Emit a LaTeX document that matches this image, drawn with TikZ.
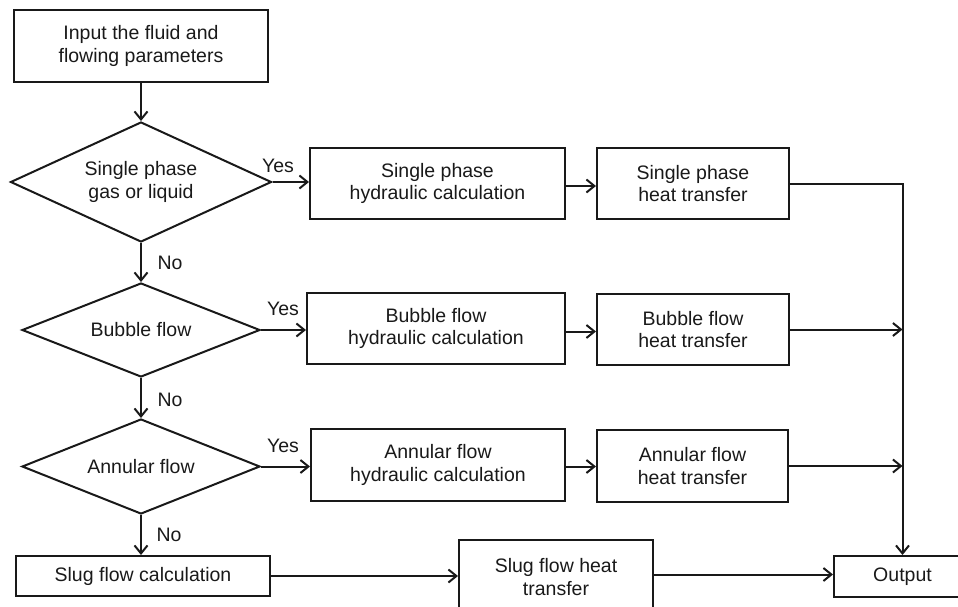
\documentclass[tikz,border=0pt]{standalone}
\usepackage{fontspec}
\setmainfont{Liberation Sans}
\usetikzlibrary{shapes.geometric,arrows.meta}
\begin{document}
\begin{tikzpicture}[x=1pt,y=-1pt,
  every node/.style={font=\fontsize{19.5}{22.5}\selectfont, text=black!90},
  box/.style={draw=black!90, line width=2pt, inner sep=0pt, align=center},
  dia/.style={draw=black!90, diamond, line width=2pt, inner sep=0pt, align=center},
  arr/.style={draw=black!90, line width=2pt, -{Straight Barb[length=8pt,width=13pt]}},
  lbl/.style={inner sep=0pt}]
\useasboundingbox (0,0) rectangle (958,607);
\clip (0,0) rectangle (958,607);
% left column
\node[box, minimum width=254pt, minimum height=72pt] (in) at (141,46) {Input the fluid and\\flowing parameters};
\node[dia, aspect=2.175, minimum width=261pt, minimum height=120pt] (d1) at (141,182) {Single phase\\gas or liquid};
\node[dia, aspect=2.53, minimum width=238pt, minimum height=94pt] (d2) at (141,330) {Bubble flow};
\node[dia, aspect=2.5, minimum width=238pt, minimum height=95pt] (d3) at (141,466.5) {Annular flow};
\node[box, minimum width=254pt, minimum height=40pt] (slug) at (143,576) {Slug flow calculation};
% hydraulic boxes
\node[box, minimum width=255pt, minimum height=71pt] (sph) at (437.5,183.5) {Single phase\\hydraulic calculation};
\node[box, minimum width=258pt, minimum height=71pt] (bph) at (436,328.5) {Bubble flow\\hydraulic calculation};
\node[box, minimum width=254pt, minimum height=72pt] (aph) at (438,465) {Annular flow\\hydraulic calculation};
% heat transfer boxes
\node[box, minimum width=192pt, minimum height=71pt] (sht) at (693,183.5) {Single phase\\heat transfer};
\node[box, minimum width=192pt, minimum height=71pt] (bht) at (693,329.5) {Bubble flow\\heat transfer};
\node[box, minimum width=191pt, minimum height=72pt] (aht) at (692.5,466) {Annular flow\\heat transfer};
\node[box, minimum width=194pt, minimum height=74pt] (slugh) at (556,577) {Slug flow heat\\transfer};
\node[box, minimum width=137pt, minimum height=41pt] (out) at (902.5,576.5) {Output};
% connectors
\draw[arr] (in.south) -- (d1.north);
\draw[arr] (d1.south) -- (d2.north);
\draw[arr] (d2.south) -- (d3.north);
\draw[arr] (d3.south) -- (d3.south |- slug.north);
\draw[arr] (d1.east) -- (d1.east -| sph.west);
\draw[arr] (d2.east) -- (d2.east -| bph.west);
\draw[arr] (d3.east) -- (d3.east -| aph.west);
\draw[arr] ([yshift=-2.5pt]sph.east) -- ([yshift=-2.5pt]sph.east -| sht.west);
\draw[arr] ([yshift=-3pt]bph.east) -- ([yshift=-3pt]bph.east -| bht.west);
\draw[arr] ([yshift=-1.5pt]aph.east) -- ([yshift=-1.5pt]aph.east -| aht.west);
\draw[arr] (sht.east) -| (out.north);
\draw[arr] (bht.east) -- (bht.east -| out.north);
\draw[arr] (aht.east) -- (aht.east -| out.north);
\draw[arr] (slug.east) -- (slug.east -| slugh.west);
\draw[arr] ([yshift=2.5pt]slugh.east) -- ([yshift=2.5pt]slugh.east -| out.west);
% labels
\node[lbl] (y1) at (278,166) {Yes};
\node[lbl] (y2) at (283,309) {Yes};
\node[lbl] (y3) at (283,446) {Yes};
\node[lbl] (n1) at (170,263) {No};
\node[lbl] (n2) at (170,400) {No};
\node[lbl] (n3) at (169,535) {No};
\end{tikzpicture}
\end{document}
